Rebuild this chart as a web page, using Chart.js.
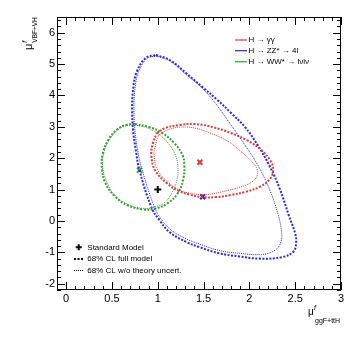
<!DOCTYPE html>
<html lang="en">
<head>
  <meta charset="UTF-8" />
  <title>Coupling contours</title>
  <script src="https://cdn.jsdelivr.net/npm/chart.js"></script>
  <style>
    body { margin: 0; background: #ffffff; }
    canvas { display: block; }
  </style>
</head>
<body>
<canvas id="contours" width="359" height="345"></canvas>
<script>
  // Axis ticks
  const xTicks = [0, 0.5, 1, 1.5, 2, 2.5, 3];
  const yTicks = [-2, -1, 0, 1, 2, 3, 4, 5, 6];

  // 68% CL contours, [mu_ggF+ttH, mu_VBF+VH]
  const gamGamFull = [[0.99,2.80],[1.08,2.96],[1.24,3.06],[1.40,3.09],[1.60,2.99],[1.80,2.80],[1.97,2.58],[2.13,2.26],[2.23,1.92],[2.26,1.62],[2.22,1.32],[2.12,1.10],[1.96,0.93],[1.80,0.83],[1.64,0.76],[1.49,0.76],[1.35,0.84],[1.23,0.96],[1.10,1.20],[0.97,1.62],[0.93,2.10],[0.95,2.51],[0.99,2.80]];
  const gamGamStat = [[1.01,2.74],[1.11,2.90],[1.24,2.99],[1.40,2.96],[1.60,2.77],[1.76,2.55],[1.89,2.26],[2.00,1.97],[2.07,1.73],[2.09,1.50],[2.04,1.27],[1.92,1.10],[1.76,0.97],[1.53,0.84],[1.36,0.88],[1.24,0.98],[1.11,1.24],[1.00,1.62],[0.96,2.10],[0.98,2.48],[1.01,2.74]];
  const zzFull = [[0.98,5.29],[1.13,5.13],[1.31,4.71],[1.49,4.26],[1.65,3.86],[1.80,3.44],[1.95,3.00],[2.09,2.42],[2.22,1.75],[2.33,1.04],[2.43,0.18],[2.50,-0.40],[2.51,-0.72],[2.48,-0.98],[2.36,-1.15],[2.11,-1.20],[1.89,-1.13],[1.67,-1.03],[1.46,-0.84],[1.32,-0.68],[1.13,-0.36],[1.02,0.02],[0.93,0.44],[0.80,1.62],[0.76,2.26],[0.73,2.90],[0.72,3.54],[0.73,4.18],[0.77,4.75],[0.87,5.20],[0.98,5.29]];
  const zzStat = [[0.98,5.26],[1.13,5.10],[1.30,4.69],[1.46,4.30],[1.60,3.86],[1.76,3.22],[1.92,2.55],[2.08,1.84],[2.20,1.14],[2.29,0.44],[2.35,-0.30],[2.34,-0.70],[2.27,-0.95],[2.13,-1.07],[1.89,-1.03],[1.67,-0.94],[1.46,-0.74],[1.32,-0.58],[1.15,-0.30],[1.04,0.05],[0.96,0.47],[0.83,1.62],[0.78,2.26],[0.75,2.90],[0.74,3.54],[0.75,4.18],[0.79,4.75],[0.88,5.17],[0.98,5.26]];
  const wwFull = [[0.75,3.09],[0.91,2.99],[1.05,2.80],[1.18,2.48],[1.27,2.10],[1.29,1.78],[1.28,1.36],[1.22,0.89],[1.11,0.57],[0.97,0.39],[0.84,0.37],[0.67,0.50],[0.53,0.79],[0.43,1.20],[0.39,1.68],[0.40,2.16],[0.46,2.58],[0.55,2.90],[0.65,3.06],[0.75,3.09]];
  const wwStat = [[0.75,3.06],[0.89,2.96],[1.02,2.74],[1.13,2.42],[1.20,2.04],[1.22,1.68],[1.21,1.30],[1.16,0.92],[1.08,0.60],[0.96,0.44],[0.84,0.40],[0.67,0.53],[0.53,0.82],[0.45,1.20],[0.40,1.68],[0.41,2.16],[0.47,2.58],[0.55,2.87],[0.65,3.03],[0.75,3.06]];

  // Best-fit points and SM
  const gamGamBest = [1.46, 1.87];
  const zzBest = [1.49, 0.77];
  const wwBest = [0.80, 1.62];
  const smPoint = [1, 1];

  const RED = '#dd3a3a', BLUE = '#2626ee', GREEN = '#34a034';
  const FONT = '"Liberation Sans", Arial, sans-serif';

  const pts = arr => arr.map(p => ({ x: p[0], y: p[1] }));

  function contour(data, color, full) {
    return {
      data: pts(data),
      showLine: true,
      borderColor: color,
      borderWidth: full ? 2 : 1,
      borderDash: full ? [2, 1.5] : [1, 1],
      pointRadius: 0,
      tension: 0.4,
      fill: false
    };
  }

  function marker(p, color, style) {
    return {
      data: pts([p]),
      pointStyle: style,
      pointRadius: 3.5,
      borderColor: color,
      backgroundColor: color,
      pointBorderWidth: 2,
      showLine: false
    };
  }

  // frame + inward ticks on all four sides
  const framePlugin = {
    id: 'frame',
    afterDatasetsDraw(chart) {
      const { ctx, chartArea: a, scales: { x, y } } = chart;
      ctx.save();
      ctx.strokeStyle = '#000';
      ctx.lineWidth = 1;
      ctx.strokeRect(a.left + 0.5, a.top + 0.5, a.right - a.left - 1, a.bottom - a.top - 1);
      ctx.beginPath();
      for (let i = -1; i <= 30; i++) {
        const v = i / 10;
        if (v < x.min || v > x.max) continue;
        const px = Math.round(x.getPixelForValue(v)) + 0.5;
        const len = i % 5 === 0 ? 8 : 4;
        ctx.moveTo(px, a.bottom); ctx.lineTo(px, a.bottom - len);
        ctx.moveTo(px, a.top); ctx.lineTo(px, a.top + len);
      }
      for (let i = -11; i <= 33; i++) {
        const v = i / 5;
        if (v < y.min || v > y.max) continue;
        const py = Math.round(y.getPixelForValue(v)) + 0.5;
        const len = i % 5 === 0 ? 8 : 4;
        ctx.moveTo(a.left, py); ctx.lineTo(a.left + len, py);
        ctx.moveTo(a.right, py); ctx.lineTo(a.right - len, py);
      }
      ctx.stroke();
      ctx.restore();
    }
  };

  // axis titles and legends
  const textPlugin = {
    id: 'texts',
    afterDraw(chart) {
      const ctx = chart.ctx;
      ctx.save();
      ctx.fillStyle = '#000';
      ctx.textBaseline = 'alphabetic';

      // x title
      ctx.font = '10px ' + FONT;
      ctx.fillText('μ', 308, 314.5);
      ctx.font = 'italic 7px ' + FONT;
      ctx.fillText('f', 314, 309.5);
      ctx.font = '7px ' + FONT;
      ctx.fillText('ggF+ttH', 315, 322.5);

      // y title
      ctx.translate(31.5, 50);
      ctx.rotate(-Math.PI / 2);
      ctx.font = '11px ' + FONT;
      ctx.fillText('μ', 0, 0);
      const w = ctx.measureText('μ').width;
      ctx.font = 'italic 7px ' + FONT;
      ctx.fillText('f', w + 1, -5);
      ctx.font = '6.5px ' + FONT;
      ctx.fillText('VBF+VH', w + 1, 5);
      ctx.setTransform(1, 0, 0, 1, 0, 0);

      // channel legend
      ctx.font = '8px ' + FONT;
      ctx.textBaseline = 'middle';
      const chans = [['H → γγ', RED, 40], ['H → ZZ* → 4l', BLUE, 50.7], ['H → WW* → lνlν', GREEN, 61.7]];
      chans.forEach(([label, color, ly]) => {
        ctx.strokeStyle = color;
        ctx.lineWidth = 1.2;
        ctx.beginPath();
        ctx.moveTo(235, ly); ctx.lineTo(247, ly);
        ctx.stroke();
        ctx.fillText(label, 248.5, ly);
      });

      // style legend
      ctx.strokeStyle = '#000';
      ctx.lineWidth = 2;
      ctx.beginPath();
      ctx.moveTo(75.7, 247.3); ctx.lineTo(81.7, 247.3);
      ctx.moveTo(78.7, 244.3); ctx.lineTo(78.7, 250.3);
      ctx.stroke();
      ctx.fillText('Standard Model', 87.3, 247.3);

      ctx.setLineDash([2, 1.5]);
      ctx.beginPath();
      ctx.moveTo(74, 259); ctx.lineTo(83, 259);
      ctx.stroke();
      ctx.fillText('68% CL full model', 87.3, 259);

      ctx.lineWidth = 1;
      ctx.setLineDash([1, 1]);
      ctx.beginPath();
      ctx.moveTo(74, 270.5); ctx.lineTo(83, 270.5);
      ctx.stroke();
      ctx.fillText('68% CL w/o theory uncert.', 87.3, 270.3);
      ctx.restore();
    }
  };

  new Chart(document.getElementById('contours').getContext('2d'), {
    type: 'scatter',
    data: {
      datasets: [
        contour(gamGamStat, RED, false),
        contour(zzStat, BLUE, false),
        contour(wwStat, GREEN, false),
        contour(gamGamFull, RED, true),
        contour(zzFull, BLUE, true),
        contour(wwFull, GREEN, true),
        marker(gamGamBest, RED, 'crossRot'),
        marker(zzBest, BLUE, 'crossRot'),
        marker(wwBest, GREEN, 'crossRot'),
        marker(smPoint, '#000', 'cross')
      ]
    },
    options: {
      responsive: false,
      animation: false,
      layout: { padding: { top: 17, right: 18, left: 0, bottom: 0 } },
      plugins: { legend: { display: false }, tooltip: { enabled: false } },
      scales: {
        x: {
          type: 'linear',
          min: -0.1,
          max: 3,
          grid: { display: false, drawTicks: false },
          border: { display: false },
          afterBuildTicks: s => { s.ticks = xTicks.map(v => ({ value: v })); },
          afterFit: s => { s.height = 55; },
          ticks: { color: '#000', padding: 2, maxRotation: 0, font: { family: FONT, size: 11 }, callback: v => String(v) }
        },
        y: {
          type: 'linear',
          min: -2.2,
          max: 6.5,
          grid: { display: false, drawTicks: false },
          border: { display: false },
          afterBuildTicks: s => { s.ticks = yTicks.map(v => ({ value: v })); },
          afterFit: s => { s.width = 57; },
          ticks: { color: '#000', padding: 2, font: { family: FONT, size: 11 }, callback: v => String(v) }
        }
      }
    },
    plugins: [framePlugin, textPlugin]
  });
</script>
</body>
</html>
